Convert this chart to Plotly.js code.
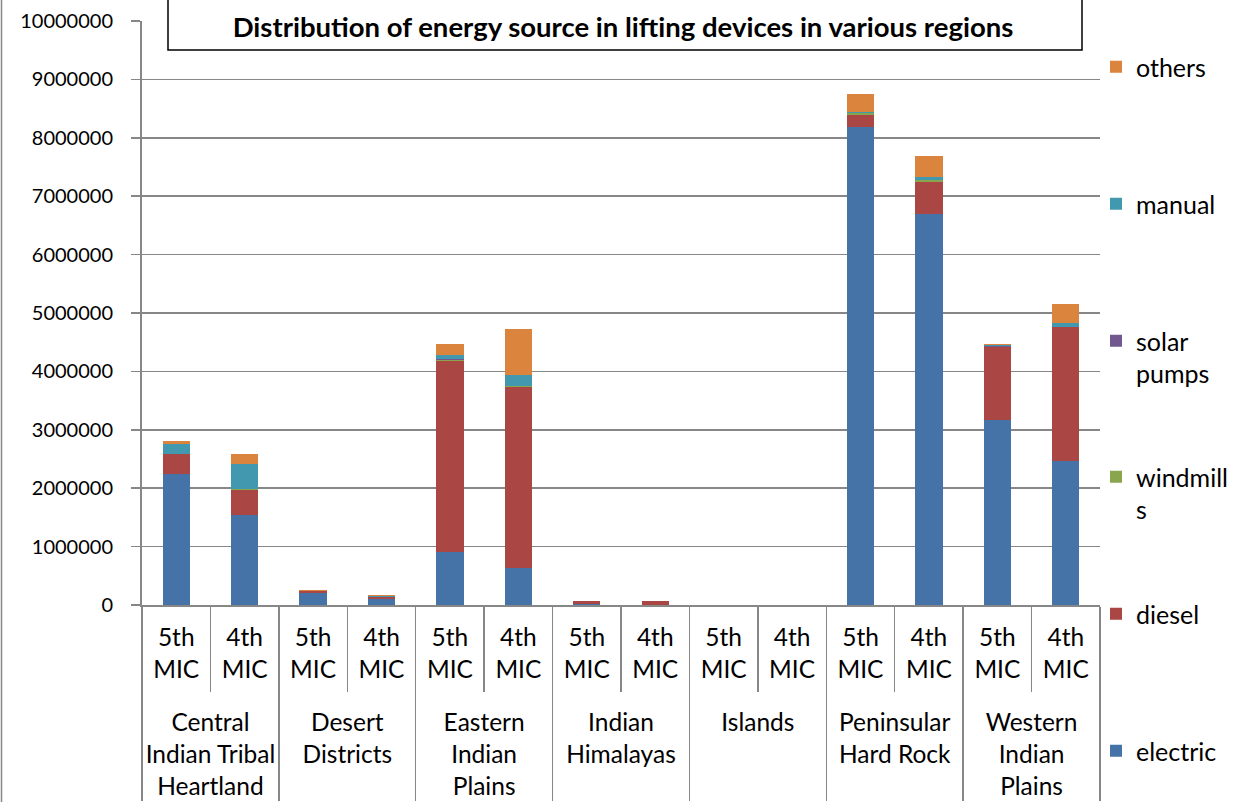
<!DOCTYPE html>
<html>
<head>
<meta charset="utf-8">
<script src="https://cdn.plot.ly/plotly-3.0.1.min.js"></script>
<style>html,body{margin:0;padding:0;background:#fff;}#chart{width:1241px;height:802px;}</style>
</head>
<body>
<div id="chart"></div>
<script>
const regions = ["Central<br>Indian Tribal<br>Heartland", "Desert<br>Districts", "Eastern<br>Indian<br>Plains", "Indian<br>Himalayas", "Islands", "Peninsular<br>Hard Rock", "Western<br>Indian<br>Plains"];
const surveys = ["5th<br>MIC", "4th<br>MIC"];

const electric  = [2243000, 1536000, 210000, 108000, 900000, 628000, 10000, 8000, 0, 0, 8180000, 6700000, 3160000, 2460000];
const diesel    = [337000, 439000, 30000, 34000, 3280000, 3112000, 60000, 55000, 0, 0, 210000, 550000, 1260000, 2295000];
const windmills = [5000, 3000, 1000, 1000, 20000, 5000, 500, 500, 0, 0, 30000, 20000, 5000, 5000];
const solar     = [2000, 2000, 500, 500, 5000, 2000, 0, 0, 0, 0, 5000, 5000, 2000, 2000];
const manual    = [170000, 435000, 5000, 5000, 75000, 195000, 2000, 2000, 0, 0, 20000, 60000, 20000, 60000];
const others    = [43000, 175000, 5000, 28000, 190000, 790000, 4000, 4000, 0, 0, 300000, 360000, 30000, 330000];

const seriesNames = ["electric", "diesel", "windmill<br>s", "solar<br>pumps", "manual", "others"];
const seriesData = [electric, diesel, windmills, solar, manual, others];
const colors = ["#4572A7", "#AA4643", "#89A54E", "#71588F", "#4198AF", "#DB843D"];
const legendIds = ["legend7", "legend6", "legend5", "legend4", "legend3", "legend2"];

// region labels get one leading blank line so they sit below the inner tick marks
const lvl1 = [], lvl2 = [];
regions.forEach(r => surveys.forEach(s => { lvl1.push("&nbsp;<br>" + r); lvl2.push(s); }));

const FONT = "Lato, 'Open Sans', sans-serif";
const traces = seriesData.map((vals, i) => ({
  type: "bar",
  name: seriesNames[i],
  x: [lvl1, lvl2],
  y: vals,
  marker: {color: colors[i], line: {width: 0}},
  legend: legendIds[i],
  hoverinfo: "y+name"
}));

// plot area in pixels: x 142..1100, y 21..605
const toPY = p => (605 - p) / 584;
const toPX = p => (p - 142) / 958;

function legendAt(textY) {
  return {
    x: toPX(1096), xanchor: "left",
    y: toPY(textY - 24), yanchor: "top",
    font: {family: FONT, size: 25, color: "#000"},
    bgcolor: "rgba(0,0,0,0)", valign: "top", itemwidth: 30
  };
}

const layout = {
  width: 1241, height: 802,
  margin: {l: 142, r: 141, t: 21, b: 197, pad: 0, autoexpand: false},
  paper_bgcolor: "#fff", plot_bgcolor: "#fff",
  font: {family: FONT, size: 25, color: "#000"},
  barmode: "stack",
  bargap: 0.6,
  showlegend: true,
  title: {
    text: "Distribution of energy source in lifting devices in various regions",
    font: {family: FONT, size: 27.5, color: "#000", weight: "bold"},
    xref: "paper", x: toPX(623), xanchor: "center",
    yref: "container", y: 1 - 27 / 802, yanchor: "middle"
  },
  xaxis: {
    type: "multicategory",
    showline: true, linecolor: "#878787", linewidth: 2,
    ticks: "outside", ticklen: 85, tickcolor: "#878787", tickwidth: 1.5,
    ticklabelstandoff: 10,
    showdividers: true, dividercolor: "#878787", dividerwidth: 1.5,
    tickfont: {family: FONT, size: 24.5, color: "#000"},
    showgrid: false, zeroline: false
  },
  yaxis: {
    range: [0, 10000000], dtick: 1000000, tick0: 0,
    tickformat: "d",
    showline: true, linecolor: "#878787", linewidth: 2,
    ticks: "outside", ticklen: 9, tickcolor: "#878787", tickwidth: 1.5,
    showgrid: true, gridcolor: "#878787", gridwidth: 1.5,
    zeroline: false,
    ticklabelstandoff: 14,
    tickfont: {family: FONT, size: 20, color: "#000"}
  },
  legend2: legendAt(68),
  legend3: legendAt(205),
  legend4: legendAt(342),
  legend5: legendAt(478),
  legend6: legendAt(615),
  legend7: legendAt(752),
  shapes: [
    {type: "rect", xref: "paper", yref: "paper", layer: "above",
     x0: toPX(168), x1: toPX(1082), y0: toPY(50), y1: toPY(-10),
     line: {color: "#000", width: 1.5}, fillcolor: "#fff"},
    {type: "line", xref: "paper", yref: "paper", layer: "above",
     x0: toPX(1.5), x1: toPX(1.5), y0: toPY(0), y1: toPY(802),
     line: {color: "#878787", width: 1.5}}
  ]
};

Plotly.newPlot("chart", traces, layout, {displayModeBar: false, staticPlot: true});
</script>
</body>
</html>
